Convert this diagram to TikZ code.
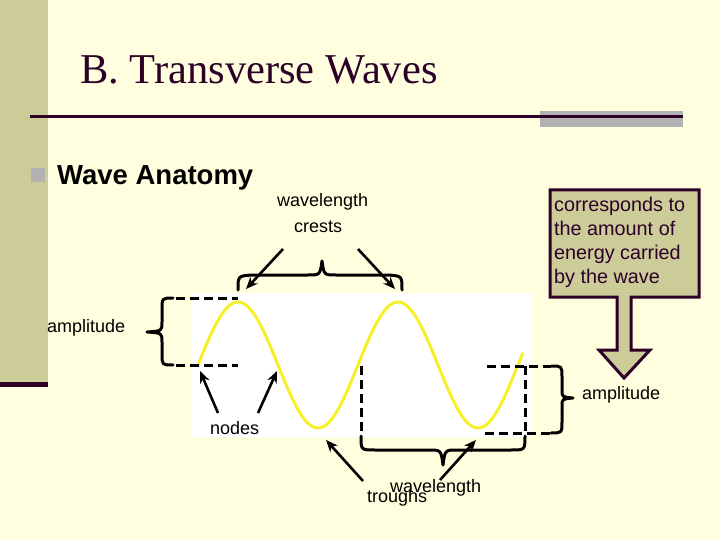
\documentclass[tikz,border=0pt]{standalone}
\usepackage{fontspec}
\setmainfont{Liberation Serif}
\setsansfont{Liberation Sans}
\usetikzlibrary{arrows.meta}
\definecolor{cream}{RGB}{255,255,224}
\definecolor{khaki}{RGB}{204,204,153}
\definecolor{bargray}{RGB}{178,178,178}
\definecolor{darkpurple}{RGB}{45,0,40}
\definecolor{wavey}{RGB}{245,240,40}
\tikzset{
  lbl/.style={font=\sffamily\fontsize{18}{20}\selectfont, inner sep=0pt, text=black},
  dashline/.style={line width=3pt, dash pattern=on 9pt off 5pt},
  bracepath/.style={line width=3pt, line cap=round, line join=round},
  ptr/.style={line width=2.6pt, -{Stealth[length=12pt,width=10pt]}},
}
\begin{document}
\begin{tikzpicture}[x=1pt,y=-1pt]
\useasboundingbox (0,0) rectangle (720,540);
\fill[cream] (0,0) rectangle (720,540);
% left bar
\fill[khaki] (0,0) rectangle (48,382);
\fill[darkpurple] (0,382) rectangle (48,387);
% title
\node[anchor=base west, inner sep=0pt, text=darkpurple, font=\fontsize{42.5}{45}\selectfont] (title) at (80,84) {B. Transverse Waves};
\fill[bargray] (540,111) rectangle (683,127);
\draw[darkpurple, line width=3pt] (30,117) -- (683,117);
% bullet
\fill[bargray] (31,168) rectangle (45,182);
\node[anchor=base west, inner sep=0pt, font=\sffamily\bfseries\fontsize{27.5}{30}\selectfont] (anat) at (57,185) {Wave Anatomy};
% white panel and wave
\fill[white] (192,293) rectangle (531,437);
\draw[wavey, line width=3pt, domain=0:325, samples=160, smooth] plot ({198+\x}, {365-63*sin(2.25*\x)});
% left amplitude
\draw[dashline] (176,298) -- (238,298);
\draw[dashline] (176,365) -- (238,365);
\draw[bracepath] (173,298) .. controls (162,298) .. (162,310) -- (162,322) .. controls (162,331) .. (147,332) .. controls (162,333) .. (162,342) -- (162,354) .. controls (162,365) .. (173,365);
\node[lbl, anchor=west] (ampL) at (47,328) {amplitude};
% top wavelength brace
\draw[bracepath] (238,290) .. controls (238,276) .. (252,275) -- (308,275) .. controls (320,275) .. (322,261) .. controls (324,275) .. (336,275) -- (388,275) .. controls (402,276) .. (402,290);
\node[lbl, anchor=base west] (wlT) at (277,207) {wavelength};
\node[lbl, anchor=base west] (crests) at (294,233) {crests};
\coordinate (c1t) at (283,249);
\coordinate (c1h) at (246,289);
\coordinate (c2t) at (358,249);
\coordinate (c2h) at (395,289);
\draw[ptr] (c1t) -- (c1h);
\draw[ptr] (c2t) -- (c2h);
% nodes
\node[lbl, anchor=base west] (nodes) at (210,434) {nodes};
\coordinate (n1t) at (218,413);
\coordinate (n1h) at (200,371);
\coordinate (n2t) at (258,413);
\coordinate (n2h) at (277,371);
\draw[ptr] (n1t) -- (n1h);
\draw[ptr] (n2t) -- (n2h);
% bottom wavelength
\draw[dashline] (361,366) -- (361,436);
\draw[dashline] (525,366) -- (525,436);
\draw[bracepath] (361,436) .. controls (361,450) .. (375,450) -- (429,450) .. controls (441,450) .. (443,465) .. controls (445,450) .. (457,450) -- (511,450) .. controls (525,450) .. (525,436);
\node[lbl, anchor=base west] (wlB) at (390,492) {wavelength};
\node[lbl, anchor=base west] (troughs) at (367,502) {troughs};
\coordinate (t1t) at (363,481);
\coordinate (t1h) at (326,440);
\coordinate (t2t) at (440,480);
\coordinate (t2h) at (476,440);
\draw[ptr] (t1t) -- (t1h);
\draw[ptr] (t2t) -- (t2h);
% right amplitude
\draw[dashline] (487,366) -- (551,366);
\draw[dashline] (485,433) -- (551,433);
\draw[bracepath] (551,366) .. controls (562,366) .. (562,377) -- (562,390) .. controls (562,397) .. (573,398) .. controls (562,399) .. (562,406) -- (562,421) .. controls (562,433) .. (551,433);
\node[lbl, anchor=west] (ampR) at (582,395) {amplitude};
% callout
\draw[darkpurple, fill=khaki, line width=3pt, line join=miter] (550,190) -- (699,190) -- (699,297) -- (631,297) -- (631,350) -- (650,350) -- (624,378) -- (599,350) -- (617,350) -- (617,297) -- (550,297) -- cycle;
\node[anchor=north west, inner sep=0pt, align=left, text=darkpurple, font=\sffamily\fontsize{19.8}{24}\selectfont] (callout) at (554,197) {corresponds to\\the amount of\\energy carried\\by the wave};
\end{tikzpicture}
\end{document}
